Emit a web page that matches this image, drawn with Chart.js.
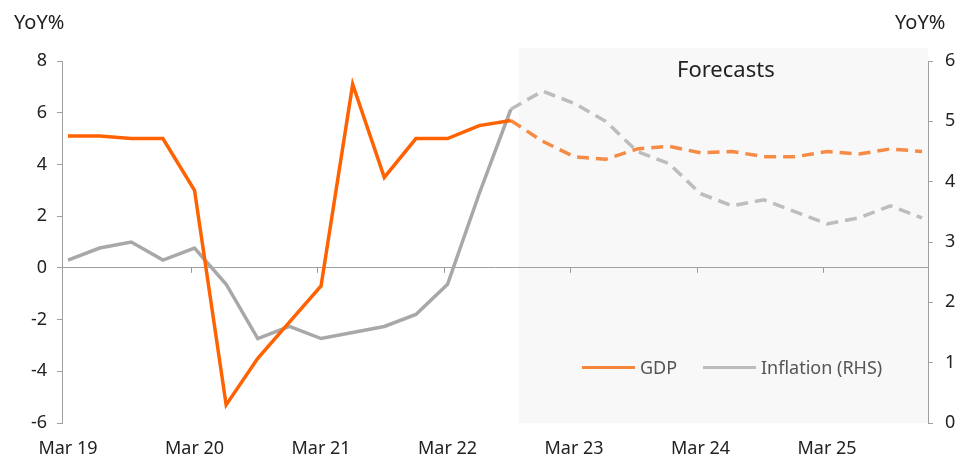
<!DOCTYPE html>
<html lang="en">
<head>
    <meta charset="UTF-8">
    <title>GDP and inflation</title>
    <script src="https://cdn.jsdelivr.net/npm/chart.js"></script>
    <style>
        body { margin: 0; background: #fff; font-family: "Noto Sans", sans-serif; }
        #wrap { position: relative; width: 972px; height: 457px; }
        .lbl { position: absolute; color: #222; font-size: 20px; white-space: nowrap; }
        .leg { position: absolute; top: 355px; font-size: 18px; color: #555; display: flex; align-items: center; }
        .leg span.line { display: inline-block; width: 53px; height: 3px; margin-right: 5px; }
    </style>
</head>
<body>
    <div id="wrap">
        <canvas id="chart" width="972" height="457"></canvas>
        <div class="lbl" style="left:14px; top:8px;">YoY%</div>
        <div class="lbl" style="left:895px; top:8px;">YoY%</div>
        <div class="lbl" style="left:677px; top:53px; font-size:22px;">Forecasts</div>
        <div class="leg" style="left:582px;"><span class="line" style="background:#f5873d"></span>GDP</div>
        <div class="leg" style="left:703px;"><span class="line" style="background:#bdbdbd"></span>Inflation (RHS)</div>
    </div>
    <script>
        // quarterly, Mar 19 .. Dec 25
        const quarters = [
            'Mar 19', 'Jun 19', 'Sep 19', 'Dec 19',
            'Mar 20', 'Jun 20', 'Sep 20', 'Dec 20',
            'Mar 21', 'Jun 21', 'Sep 21', 'Dec 21',
            'Mar 22', 'Jun 22', 'Sep 22', 'Dec 22',
            'Mar 23', 'Jun 23', 'Sep 23', 'Dec 23',
            'Mar 24', 'Jun 24', 'Sep 24', 'Dec 24',
            'Mar 25', 'Jun 25', 'Sep 25', 'Dec 25'
        ];
        const gdp = [
            5.1, 5.1, 5.0, 5.0,
            3.0, -5.3, -3.5, -2.1,
            -0.7, 7.1, 3.5, 5.0,
            5.0, 5.5, 5.7, 4.9,
            4.3, 4.2, 4.6, 4.7,
            4.45, 4.5, 4.3, 4.3,
            4.5, 4.4, 4.6, 4.5
        ];
        const inflation = [
            2.7, 2.9, 3.0, 2.7,
            2.9, 2.3, 1.4, 1.6,
            1.4, 1.5, 1.6, 1.8,
            2.3, 3.8, 5.2, 5.5,
            5.3, 5.0, 4.5, 4.3,
            3.8, 3.6, 3.7, 3.5,
            3.3, 3.4, 3.6, 3.4
        ];
        const lastActual = 14;      // Sep 22, forecasts after this
        const forecastFrom = 14.25; // shaded box starts here

        function part(arr, actual) {
            return arr.map((v, i) => ({
                x: i,
                y: actual ? (i <= lastActual ? v : null) : (i >= lastActual ? v : null)
            }));
        }

        const forecastBox = {
            id: 'forecastBox',
            beforeDraw(chart) {
                const {ctx, chartArea, scales} = chart;
                const x0 = scales.x.getPixelForValue(forecastFrom);
                ctx.save();
                ctx.fillStyle = '#f8f8f8';
                ctx.fillRect(x0, chartArea.top - 13, chartArea.right - x0, chartArea.bottom - chartArea.top + 13);
                ctx.restore();
            },
            afterDraw(chart) {
                // small ticks below the zero line
                const {ctx, scales} = chart;
                const y0 = scales.y.getPixelForValue(0);
                ctx.save();
                ctx.strokeStyle = '#999';
                ctx.lineWidth = 1;
                for (let i = 4; i < quarters.length; i += 4) {
                    const x = Math.round(scales.x.getPixelForValue(i)) - 3.5;
                    ctx.beginPath();
                    ctx.moveTo(x, y0);
                    ctx.lineTo(x, y0 + 5);
                    ctx.stroke();
                }
                ctx.restore();
            }
        };

        const tickFont = {family: 'Noto Sans', size: 18};

        new Chart(document.getElementById('chart'), {
            type: 'line',
            data: {
                datasets: [
                    {label: 'GDP', data: part(gdp, true), yAxisID: 'y', borderColor: '#ff6200', borderWidth: 3.5},
                    {label: 'GDP forecast', data: part(gdp, false), yAxisID: 'y', borderColor: '#f68b45', borderWidth: 3.5, borderDash: [12, 7]},
                    {label: 'Inflation (RHS)', data: part(inflation, true), yAxisID: 'y1', borderColor: '#a8a8a8', borderWidth: 3.5},
                    {label: 'Inflation forecast', data: part(inflation, false), yAxisID: 'y1', borderColor: '#bdbdbd', borderWidth: 3.5, borderDash: [12, 7]}
                ]
            },
            options: {
                responsive: false,
                animation: false,
                elements: {point: {radius: 0}, line: {tension: 0, borderCapStyle: 'butt'}},
                layout: {padding: {top: 61, left: 0, right: 0, bottom: 0}},
                plugins: {legend: {display: false}, tooltip: {enabled: false}},
                scales: {
                    x: {
                        type: 'linear',
                        min: -0.19,
                        max: quarters.length - 1 + 0.19,
                        afterBuildTicks(axis) {
                            axis.ticks = [];
                            for (let i = 0; i < quarters.length; i += 4) axis.ticks.push({value: i});
                        },
                        afterFit(axis) { axis.height = 34; },
                        ticks: {
                            font: tickFont, color: '#222', padding: 7, maxRotation: 0,
                            callback: (v) => quarters[v]
                        },
                        grid: {display: false},
                        border: {display: false}
                    },
                    y: {
                        position: 'left',
                        min: -6, max: 8,
                        afterFit(axis) { axis.width = 62; },
                        ticks: {stepSize: 2, font: tickFont, color: '#222', padding: 10},
                        grid: {
                            color: (c) => c.tick && c.tick.value === 0 ? '#a0a0a0' : 'rgba(0,0,0,0)',
                            tickColor: '#a0a0a0', tickLength: 5, lineWidth: 1
                        },
                        border: {display: true, color: '#a0a0a0'}
                    },
                    y1: {
                        position: 'right',
                        min: 0, max: 6,
                        afterFit(axis) { axis.width = 44; },
                        ticks: {stepSize: 1, font: tickFont, color: '#222', padding: 12},
                        grid: {drawOnChartArea: false, tickColor: '#a0a0a0', tickLength: 5},
                        border: {display: true, color: '#a0a0a0'}
                    }
                }
            },
            plugins: [forecastBox]
        });
    </script>
</body>
</html>
